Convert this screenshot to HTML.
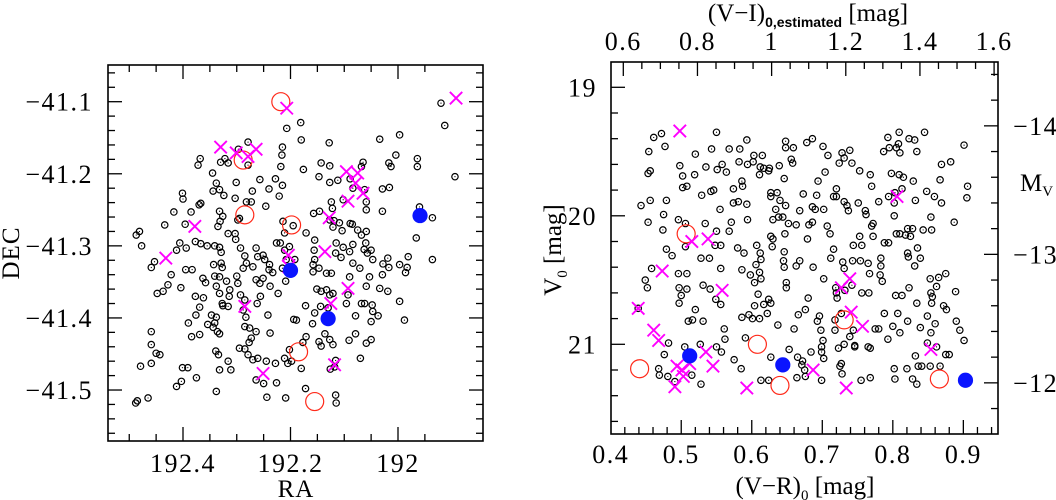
<!DOCTYPE html>
<html><head><meta charset="utf-8"><style>
html,body{margin:0;padding:0;background:#fff;}
svg{display:block;font-family:"Liberation Serif",serif;}
</style></head><body>
<svg id="fig" width="1056" height="500" viewBox="0 0 1056 500" xmlns="http://www.w3.org/2000/svg">
<g id="left"></g>
<g id="right"></g>
</svg>
<script>
// ---------- LEFT PANEL DATA (RA, DEC) ----------
const leftRA = [192.488,192.485,192.465,192.481,192.487,192.477,192.459,192.459,192.450,192.443,192.479,192.459,192.459,192.453,192.448,192.437,192.428,192.422,192.412,192.406,192.404,192.401,192.400,192.417,192.434,192.396,192.394,192.395,192.385,192.383,192.401,192.391,192.412,192.403,192.375,192.390,192.384,192.369,192.377,192.376,192.369,192.370,192.367,192.372,192.368,192.377,192.367,192.355,192.363,192.358,192.362,192.354,192.344,192.347,192.338,192.341,192.336,192.332,192.339,192.334,192.338,192.332,192.316,192.311,192.345,192.344,192.338,192.332,192.332,192.331,192.326,192.335,192.324,192.341,192.332,192.329,192.329,192.343,192.341,192.332,192.327,192.319,192.313,192.332,192.327,192.314,192.316,192.326,192.338,192.316,192.303,192.301,192.303,192.298,192.293,192.285,192.288,192.300,192.298,192.282,192.270,192.264,192.261,192.251,192.248,192.239,192.240,192.251,192.264,192.257,192.238,192.293,192.285,192.288,192.283,192.285,192.276,192.273,192.277,192.264,192.256,192.262,192.242,192.238,192.295,192.285,192.279,192.270,192.261,192.245,192.264,192.250,192.244,192.228,192.226,192.211,192.209,192.205,192.198,192.202,192.194,192.189,192.180,192.172,192.177,192.171,192.172,192.159,192.155,192.147,192.143,192.136,192.127,192.121,192.116,192.118,192.126,192.115,192.116,192.151,192.143,192.133,192.127,192.121,192.144,192.130,192.158,192.158,192.147,192.133,192.124,192.171,192.155,192.157,192.146,192.127,192.121,192.119,192.124,192.122,192.109,192.104,192.089,192.085,192.075,192.068,192.059,192.063,192.057,192.047,192.050,192.060,192.084,192.090,192.084,192.106,192.116,192.115,192.102,192.090,192.071,192.053,192.059,192.068,192.062,192.048,192.037,192.047,192.050,192.059,192.050,192.079,192.091,192.079,192.070,192.096,192.093,192.028,192.029,192.034,192.019,192.017,192.019,191.997,191.986,191.981,191.983,191.997,191.988,191.966,191.964,191.964,191.960,191.936,191.936,191.920,191.913,191.894,192.034,191.997,192.004,192.017,192.013,192.029,192.016,192.029,192.059,192.062,192.059,192.065,192.068,192.084,192.089,192.102,192.112,192.127,192.127,192.143,192.147,192.128,192.181,192.180,192.207,192.215,192.216,192.218,192.215,192.221,192.228,192.240,192.246,192.257,192.271,192.273,192.279,192.297,192.279,192.282,192.322,192.330,192.316,192.302,192.295,192.214,192.211,192.195,192.176,192.156,192.155,192.211,192.208,192.192,192.219,192.215,192.209,192.202,192.226,192.223,192.233];
const leftDEC = [-41.518,-41.515,-41.511,-41.280,-41.285,-41.300,-41.419,-41.437,-41.449,-41.451,-41.467,-41.463,-41.330,-41.322,-41.366,-41.363,-41.354,-41.340,-41.306,-41.296,-41.358,-41.227,-41.235,-41.253,-41.271,-41.270,-41.303,-41.333,-41.253,-41.333,-41.469,-41.469,-41.495,-41.488,-41.483,-41.407,-41.426,-41.423,-41.370,-41.396,-41.385,-41.243,-41.241,-41.188,-41.179,-41.294,-41.297,-41.300,-41.345,-41.351,-41.372,-41.409,-41.413,-41.396,-41.399,-41.407,-41.419,-41.422,-41.446,-41.451,-41.502,-41.472,-41.460,-41.472,-41.199,-41.224,-41.213,-41.222,-41.252,-41.266,-41.259,-41.273,-41.230,-41.300,-41.302,-41.309,-41.324,-41.326,-41.342,-41.343,-41.330,-41.349,-41.361,-41.366,-41.380,-41.370,-41.384,-41.383,-41.356,-41.283,-41.283,-41.212,-41.234,-41.264,-41.303,-41.314,-41.331,-41.342,-41.352,-41.324,-41.329,-41.303,-41.315,-41.313,-41.319,-41.326,-41.333,-41.345,-41.347,-41.352,-41.356,-41.368,-41.375,-41.389,-41.399,-41.412,-41.414,-41.428,-41.434,-41.419,-41.370,-41.380,-41.396,-41.421,-41.442,-41.443,-41.451,-41.458,-41.456,-41.460,-41.486,-41.491,-41.510,-41.463,-41.490,-41.456,-41.511,-41.463,-41.460,-41.444,-41.402,-41.403,-41.470,-41.498,-41.434,-41.426,-41.383,-41.408,-41.393,-41.433,-41.439,-41.422,-41.430,-41.437,-41.459,-41.468,-41.471,-41.518,-41.507,-41.360,-41.363,-41.361,-41.368,-41.366,-41.384,-41.386,-41.326,-41.336,-41.331,-41.338,-41.338,-41.282,-41.292,-41.255,-41.252,-41.264,-41.274,-41.265,-41.239,-41.248,-41.268,-41.279,-41.269,-41.270,-41.278,-41.285,-41.280,-41.305,-41.310,-41.319,-41.306,-41.296,-41.298,-41.308,-41.324,-41.316,-41.310,-41.296,-41.302,-41.343,-41.331,-41.343,-41.356,-41.380,-41.380,-41.382,-41.397,-41.391,-41.405,-41.435,-41.430,-41.397,-41.431,-41.422,-41.456,-41.380,-41.368,-41.325,-41.340,-41.359,-41.363,-41.330,-41.317,-41.326,-41.337,-41.315,-41.330,-41.377,-41.403,-41.289,-41.179,-41.190,-41.246,-41.261,-41.319,-41.102,-41.133,-41.204,-41.152,-41.146,-41.174,-41.185,-41.190,-41.221,-41.219,-41.252,-41.250,-41.222,-41.239,-41.184,-41.190,-41.220,-41.207,-41.236,-41.209,-41.212,-41.189,-41.185,-41.204,-41.157,-41.129,-41.153,-41.137,-41.163,-41.174,-41.190,-41.216,-41.231,-41.207,-41.221,-41.245,-41.208,-41.224,-41.239,-41.156,-41.166,-41.188,-41.239,-41.179,-41.184,-41.185,-41.291,-41.262,-41.266,-41.282,-41.272,-41.194,-41.306,-41.319,-41.306,-41.319,-41.319,-41.296,-41.331,-41.349,-41.301,-41.296,-41.366,-41.337];
const leftRedRA = [192.218,192.288,192.285,192.198,192.185,192.155];
const leftRedDEC = [-41.100,-41.181,-41.257,-41.271,-41.447,-41.516];
const leftBlueRA = [192.200,192.130,191.959];
const leftBlueDEC = [-41.334,-41.401,-41.258];
const leftCrossRA = [192.207,192.330,192.301,192.264,192.279,192.378,192.432,192.204,192.203,192.136,192.128,192.096,192.075,192.079,192.065,192.093,192.093,192.125,192.285,192.251,192.118,191.892];
const leftCrossDEC = [-41.109,-41.163,-41.171,-41.166,-41.176,-41.273,-41.317,-41.313,-41.329,-41.308,-41.261,-41.197,-41.199,-41.213,-41.227,-41.238,-41.359,-41.380,-41.384,-41.477,-41.465,-41.095];
const raTicks = [192.4,192.2,192.0];
const raTickLabels = ["192.4","192.2","192"];
const decTicks = [-41.1,-41.2,-41.3,-41.4,-41.5];
const decTickLabels = ["\u221241.1","\u221241.2","\u221241.3","\u221241.4","\u221241.5"];

// ---------- RIGHT PANEL DATA ((V-R)0, V0) ----------
const rightVR = [0.443,0.453,0.456,0.454,0.461,0.472,0.477,0.456,0.479,0.453,0.475,0.474,0.479,0.487,0.458,0.449,0.452,0.482,0.476,0.468,0.469,0.481,0.491,0.498,0.502,0.502,0.508,0.519,0.520,0.496,0.506,0.506,0.496,0.508,0.497,0.508,0.500,0.497,0.510,0.516,0.520,0.531,0.505,0.515,0.527,0.528,0.529,0.534,0.535,0.542,0.546,0.550,0.543,0.550,0.551,0.558,0.564,0.568,0.555,0.556,0.528,0.540,0.531,0.541,0.548,0.549,0.556,0.556,0.561,0.562,0.557,0.550,0.574,0.571,0.568,0.583,0.582,0.586,0.587,0.593,0.594,0.602,0.603,0.615,0.612,0.611,0.617,0.625,0.624,0.639,0.646,0.648,0.648,0.656,0.658,0.659,0.574,0.581,0.593,0.594,0.580,0.589,0.586,0.598,0.611,0.613,0.604,0.607,0.612,0.613,0.606,0.630,0.629,0.634,0.636,0.627,0.627,0.640,0.644,0.647,0.646,0.645,0.646,0.649,0.649,0.663,0.630,0.627,0.609,0.624,0.627,0.617,0.604,0.596,0.601,0.586,0.611,0.622,0.591,0.613,0.624,0.585,0.575,0.637,0.627,0.660,0.666,0.676,0.680,0.653,0.665,0.672,0.671,0.675,0.676,0.664,0.684,0.696,0.693,0.698,0.701,0.699,0.699,0.702,0.699,0.652,0.663,0.673,0.668,0.681,0.679,0.686,0.690,0.694,0.704,0.702,0.702,0.707,0.711,0.716,0.712,0.719,0.720,0.721,0.732,0.742,0.731,0.729,0.743,0.678,0.686,0.701,0.708,0.724,0.728,0.731,0.739,0.742,0.753,0.768,0.770,0.720,0.720,0.731,0.735,0.737,0.751,0.761,0.762,0.772,0.772,0.756,0.754,0.765,0.767,0.783,0.783,0.782,0.785,0.788,0.802,0.805,0.810,0.818,0.821,0.821,0.822,0.828,0.825,0.831,0.839,0.835,0.843,0.854,0.855,0.853,0.865,0.875,0.854,0.856,0.855,0.872,0.876,0.889,0.862,0.802,0.794,0.813,0.804,0.823,0.834,0.807,0.821,0.810,0.800,0.793,0.839,0.849,0.860,0.854,0.849,0.862,0.875,0.880,0.890,0.895,0.901,0.802,0.803,0.820,0.828,0.834,0.832,0.836,0.853,0.841,0.867,0.788,0.775,0.780,0.768,0.765,0.755,0.768,0.746,0.739,0.731,0.723,0.727,0.725,0.728,0.718,0.718,0.727,0.744,0.746,0.794,0.798,0.809,0.815,0.829,0.803,0.813,0.832,0.848,0.859,0.869,0.869,0.867,0.882,0.845,0.834,0.831,0.823,0.808,0.810,0.805,0.795,0.793,0.787,0.809,0.901,0.906,0.905,0.887,0.780,0.770,0.753,0.744,0.716,0.692,0.686,0.648,0.638,0.668,0.687,0.756,0.766,0.439];
const rightV0 = [19.92,19.67,19.65,19.50,19.39,19.36,19.46,19.88,19.88,20.05,19.99,20.11,20.26,20.31,20.41,20.50,20.56,20.99,21.08,21.19,21.24,21.25,21.29,19.61,19.69,19.78,19.77,19.68,19.52,20.03,20.06,20.24,20.45,20.45,20.56,20.57,20.62,20.68,20.82,20.81,20.73,20.82,21.02,21.24,21.00,21.31,19.84,20.06,19.62,19.81,19.80,19.35,19.48,20.12,19.64,19.60,19.66,19.48,19.95,20.23,20.33,20.33,20.54,20.57,20.23,20.65,20.69,20.41,20.88,20.96,21.06,21.02,19.79,20.05,20.12,19.48,19.58,19.73,19.77,19.41,19.60,19.58,19.53,19.53,19.62,19.68,19.63,19.63,19.65,19.61,19.71,19.42,19.47,19.56,19.59,19.47,19.90,19.89,19.91,20.03,20.25,20.29,20.42,20.46,20.44,20.49,20.52,20.23,20.29,20.34,20.38,20.18,20.24,19.95,19.82,19.82,19.85,19.88,20.01,20.14,20.28,20.35,20.40,20.52,20.56,20.39,20.03,20.16,20.61,20.65,20.68,20.69,20.70,20.77,20.80,20.79,20.80,20.76,20.95,21.28,21.28,21.19,21.12,20.85,21.10,20.88,20.77,20.73,20.64,21.04,21.10,21.13,21.16,21.20,21.25,21.26,21.06,20.78,20.82,20.89,20.97,21.02,21.06,21.11,21.28,20.06,20.07,19.83,19.96,20.07,20.18,19.93,19.95,19.73,19.66,19.95,20.49,20.08,20.14,20.26,20.33,20.56,20.60,20.64,20.58,20.54,20.41,20.36,20.35,19.43,19.40,19.46,19.53,19.59,19.51,19.55,19.49,19.59,19.65,19.68,19.77,19.79,19.85,19.89,19.92,19.96,19.90,19.96,19.99,20.06,20.16,20.23,20.35,20.37,20.45,20.33,20.39,20.46,20.51,20.21,20.00,20.14,20.14,20.15,20.10,20.29,20.32,20.10,20.16,20.39,20.33,20.25,20.11,20.01,20.11,20.49,20.48,20.45,20.60,20.63,20.68,20.70,20.73,20.59,20.55,19.90,20.21,20.62,20.62,20.56,20.68,20.76,20.82,20.91,20.86,20.96,20.87,20.78,20.84,20.91,20.99,21.02,21.08,21.08,20.82,20.89,20.97,21.19,21.27,21.19,21.27,21.31,21.09,21.17,21.17,21.17,21.17,20.76,20.88,20.88,21.03,21.02,21.28,21.26,21.02,20.94,21.00,21.03,21.15,21.17,21.23,20.89,20.81,20.76,20.89,21.01,19.85,19.67,19.68,19.70,19.73,19.82,19.79,19.88,19.81,19.85,19.90,19.60,19.72,19.58,19.35,19.50,19.41,19.40,19.44,19.51,19.47,19.47,19.39,19.50,19.35,19.45,19.77,19.86,20.05,19.89,20.08,20.16,20.23,19.85,19.84,20.05,19.92,20.01,20.35,20.40,20.60,20.60,20.72];
const rightRedVR = [0.441,0.507,0.608,0.640,0.731,0.866];
const rightRedV0 = [21.19,20.14,21.00,21.32,20.81,21.27];
const rightBlueVR = [0.512,0.644,0.903];
const rightBlueV0 = [21.09,21.16,21.28];
const rightCrossVR = [0.498,0.473,0.439,0.461,0.468,0.515,0.538,0.558,0.494,0.501,0.503,0.512,0.491,0.535,0.545,0.593,0.687,0.727,0.739,0.741,0.757,0.734,0.806,0.854];
const rightCrossV0 = [19.34,20.43,20.72,20.89,20.97,20.20,20.18,20.58,21.17,21.20,21.25,21.15,21.33,21.06,21.17,21.34,21.20,20.56,20.49,20.75,20.86,21.34,19.85,21.04];
const vrTicks = [0.4,0.5,0.6,0.7,0.8,0.9];
const vrTickLabels = ["0.4","0.5","0.6","0.7","0.8","0.9"];
const v0Ticks = [19,20,21];
const v0TickLabels = ["19","20","21"];
const viTicks = [0.6,0.8,1.0,1.2,1.4,1.6];
const viTickLabels = ["0.6","0.8","1","1.2","1.4","1.6"];
const mvTicks = [-14,-13,-12];
const mvTickLabels = ["\u221214","\u221213","\u221212"];

const NS = "http://www.w3.org/2000/svg";
function mk(parent, tag, attrs){
  const e = document.createElementNS(NS, tag);
  for (const k in attrs) e.setAttribute(k, attrs[k]);
  parent.appendChild(e);
  return e;
}
function fmt(v,d){return Math.round(v*Math.pow(10,d))/Math.pow(10,d);}

// ---------- axis functions ----------
const L = {x0:108, x1:483, y0:65, y1:441};
const lx = ra => 398 + (192 - ra) * 537.5;
const ly = dec => 101.7 + (-41.1 - dec) * 720.8;
const R = {x0:611, x1:998, y0:62, y1:434};
const rx = vr => 610.7 + (vr - 0.4) * 705.3;
const ry = v0 => 87.3 + (v0 - 19) * 128.5;
const tx = vi => 623.3 + (vi - 0.6) * 370.8;
const my = mv => ry(mv + 33.3);

const TICKFONT = 26, TICKLS = 1.5;

function drawFrame(g, F, name){
  const r = mk(g,'rect',{x:F.x0,y:F.y0,width:F.x1-F.x0,height:F.y1-F.y0,fill:'none',stroke:'#000','stroke-width':1.6});
  
  
}
function tick(g, x1,y1,x2,y2){
  const t = mk(g,'line',{x1:x1,y1:y1,x2:x2,y2:y2,stroke:'#000','stroke-width':1.3});
  
  
}
function label(g, x, y, txt, anchor, size, name, ls){
  const t = mk(g,'text',{x:x,y:y,'text-anchor':anchor,'font-size':size,fill:'#000'});
  if (ls) t.setAttribute('letter-spacing', ls);
  t.textContent = txt;
  
  
  return t;
}
function circ(g, x, y, name){
  const c = mk(g,'circle',{cx:x,cy:y,r:3.2,fill:'none',stroke:'#000','stroke-width':1.2});
  
  
  const d = mk(g,'circle',{cx:x,cy:y,r:0.6,fill:'#000'});
  
  
}
function redc(g,x,y){
  const c = mk(g,'circle',{cx:x,cy:y,r:9,fill:'none',stroke:'#ff2a1a','stroke-width':1.2});
  
  
}
function bluec(g,x,y){
  const c = mk(g,'circle',{cx:x,cy:y,r:7.6,fill:'#0a14ff'});
  
  
}
function cross(g,x,y){
  const s=6.2;
  const p = mk(g,'path',{d:`M${x-s},${y-s}L${x+s},${y+s}M${x-s},${y+s}L${x+s},${y-s}`,stroke:'#ff00ff','stroke-width':1.9,fill:'none'});
  
  
}

// ---------- LEFT ----------
const gl = document.getElementById('left');
for (let i=0;i<=12;i++){
  const v = fmt(192.55 - i*0.05, 2);
  const x = lx(v);
  if (x < L.x0+1 || x > L.x1-1) continue;
  const major = Math.abs(v*10 - Math.round(v*10))<1e-6 && Math.round(v*10)%2===0;
  const len = major?14:7;
  tick(gl,x,L.y1,x,L.y1-len); tick(gl,x,L.y0,x,L.y0+len);
}
for (let i=0;i<=30;i++){
  const v = fmt(-41.04 - i*0.02, 2);
  const y = ly(v);
  if (y < L.y0+1 || y > L.y1-1) continue;
  const major = Math.abs(v*10 - Math.round(v*10))<1e-6;
  const len = major?14:7;
  tick(gl,L.x0,y,L.x0+len,y); tick(gl,L.x1,y,L.x1-len,y);
}
raTicks.forEach((v,i)=>label(gl, lx(v), 472, raTickLabels[i], 'middle', TICKFONT, 'ra-tick-label', TICKLS));
decTicks.forEach((v,i)=>label(gl, 93, ly(v)+9, decTickLabels[i], 'end', TICKFONT, 'dec-tick-label', TICKLS));
label(gl, 296, 497, 'RA', 'middle', 25, 'x-axis-title', 1);
const dt = label(gl, 0, 0, 'DEC', 'middle', 25, 'y-axis-title', 1);
dt.setAttribute('transform','translate(19,253) rotate(-90)');
leftRA.forEach((v,i)=>circ(gl, lx(v), ly(leftDEC[i]), 'galaxy-point'));
leftRedRA.forEach((v,i)=>redc(gl, lx(v), ly(leftRedDEC[i])));
leftCrossRA.forEach((v,i)=>cross(gl, lx(v), ly(leftCrossDEC[i])));
leftBlueRA.forEach((v,i)=>bluec(gl, lx(v), ly(leftBlueDEC[i])));
drawFrame(gl, L, 'left-plot-frame');

// ---------- RIGHT ----------
const gr = document.getElementById('right');
for (let i=0;i<=30;i++){
  const v = fmt(0.4 + i*0.02, 2);
  const x = rx(v);
  if (x < R.x0+1 || x > R.x1-1) continue;
  const major = Math.abs(v*10 - Math.round(v*10))<1e-6;
  tick(gr,x,R.y1,x,R.y1-(major?14:7));
}
for (let i=0;i<=30;i++){
  const v = fmt(0.6 + i*0.05, 2);
  const x = tx(v);
  if (x < R.x0+1 || x > R.x1-1) continue;
  const major = Math.abs(v*5 - Math.round(v*5))<1e-6;
  tick(gr,x,R.y0,x,R.y0+(major?14:7));
}
for (let i=0;i<=20;i++){
  const v = fmt(18.8 + i*0.2, 1);
  const y = ry(v);
  if (y < R.y0+1 || y > R.y1-1) continue;
  const major = Math.abs(v - Math.round(v))<1e-6;
  tick(gr,R.x0,y,R.x0+(major?14:7),y);
}
for (let i=0;i<=20;i++){
  const v = fmt(-14.6 + i*0.2, 1);
  const y = my(v);
  if (y < R.y0+1 || y > R.y1-1) continue;
  const major = Math.abs(v - Math.round(v))<1e-6;
  tick(gr,R.x1,y,R.x1-(major?14:7),y);
}
vrTicks.forEach((v,i)=>label(gr, rx(v), 463, vrTickLabels[i], 'middle', TICKFONT, 'vr-tick-label', TICKLS));
viTicks.forEach((v,i)=>label(gr, tx(v), 50, viTickLabels[i], 'middle', TICKFONT, 'vi-tick-label', TICKLS));
v0Ticks.forEach((v,i)=>label(gr, 597, ry(v)+9, v0TickLabels[i], 'end', TICKFONT, 'v0-tick-label', TICKLS));
mvTicks.forEach((v,i)=>label(gr, 1013, my(v)+9, mvTickLabels[i], 'start', TICKFONT, 'mv-tick-label', TICKLS));
// axis titles
const bt = label(gr, 805, 494, '', 'middle', 25, 'x-axis-title');
bt.innerHTML = '(V\u2212R)<tspan dy="6" font-size="15">0</tspan><tspan dy="-6"> [mag]</tspan>';
const tt = label(gr, 808, 21, '', 'middle', 25, 'top-axis-title');
tt.innerHTML = '(V\u2212I)<tspan dy="6" font-size="14" font-family="Liberation Sans, sans-serif" font-weight="bold">0,estimated</tspan><tspan dy="-6">  [mag]</tspan>';
const lt = label(gr, 0, 0, '', 'middle', 25, 'y-axis-title');
lt.innerHTML = 'V<tspan dy="6" font-size="15">0</tspan><tspan dy="-6"> [mag]</tspan>';
lt.setAttribute('transform','translate(561,250) rotate(-90)');
const mt = label(gr, 1020, 191, '', 'start', 25, 'right-axis-title');
mt.innerHTML = 'M<tspan dy="5" font-size="15">V</tspan>';
rightVR.forEach((v,i)=>circ(gr, rx(v), ry(rightV0[i]), 'galaxy-point'));
rightRedVR.forEach((v,i)=>redc(gr, rx(v), ry(rightRedV0[i])));
rightCrossVR.forEach((v,i)=>cross(gr, rx(v), ry(rightCrossV0[i])));
rightBlueVR.forEach((v,i)=>bluec(gr, rx(v), ry(rightBlueV0[i])));
drawFrame(gr, R, 'right-plot-frame');
</script>
</body></html>
